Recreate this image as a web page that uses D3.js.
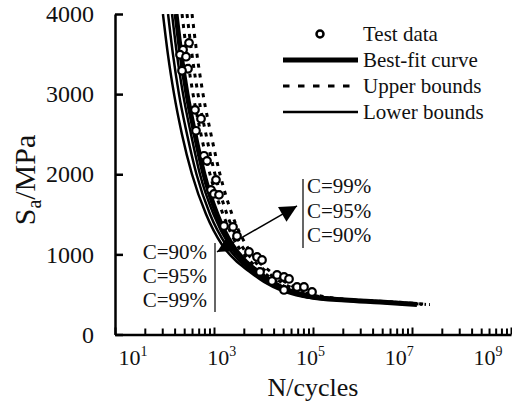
<!DOCTYPE html>
<html>
<head>
<meta charset="utf-8">
<script src="https://cdn.jsdelivr.net/npm/d3@7"></script>
<style>
  body { margin: 0; background: #fff; }
  svg text { font-family: "Liberation Serif", "Times New Roman", serif; fill: #111; }
</style>
</head>
<body>
<div id="chart"></div>
<script>
// stress levels (MPa) shared by the fitted curves
var stressLevels = [4000, 3500, 3000, 2500, 2000, 1500, 1120, 930, 790, 655, 545, 475, 430, 406, 375];

// cycles at each stress level
var nBest    = [171, 215, 285, 413, 628, 1151, 2311, 4035, 7391, 14860, 34270, 86900, 442600, 2260000, 12600000];
var nUpper90 = [226, 284, 377, 546, 830, 1522, 2917, 5092, 9327, 18750, 43250, 109700, 558600, 2852000, 15900000];
var nUpper95 = [285, 358, 475, 688, 1047, 1832, 3515, 6137, 11240, 22600, 52120, 132200, 673200, 3437000, 19160000];
var nUpper99 = [360, 452, 600, 869, 1321, 2312, 4430, 7384, 13530, 27190, 62710, 159000, 810000, 4136000, 23060000];
var nLower90 = [142, 178, 237, 343, 521, 978, 2011, 3510, 6578, 13230, 30500, 77340, 393900, 2011000, 11210000];
var nLower95 = [118, 148, 196, 285, 443, 831, 1747, 3123, 5854, 11770, 27140, 68820, 350500, 1790000, 9979000];
var nLower99 = [93, 117, 156, 225, 359, 691, 1451, 2655, 5092, 10240, 23610, 59870, 305000, 1557000, 8681000];

// test data
var testN = [313, 237, 206, 272, 298, 226, 413, 546, 433, 628, 722, 1097, 869, 1000, 1262,
             1592, 2421, 2915, 5097, 7391, 9330, 8497, 14860, 18760, 25960, 32750, 25960, 47540, 65800, 95500];
var testS = [3640, 3554, 3492, 3467, 3317, 3292, 2804, 2692, 2542, 2230, 2167, 1930, 1805, 1755, 1743,
             1355, 1343, 1230, 1031, 968, 930, 781, 668, 743, 718, 693, 556, 593, 593, 531];

// axes
var yTicks = [0, 1000, 2000, 3000, 4000];
var xMajorTicks = [1e1, 1e3, 1e5, 1e7, 1e9];
var xLabelExp = ["1", "3", "5", "7", "9"];
var minorMult = [4, 9, 16, 25, 36, 49, 64, 81];

var legendItems = ["Test data", "Best-fit curve", "Upper bounds", "Lower bounds"];
var leftNotes = ["C=90%", "C=95%", "C=99%"];
var rightNotes = ["C=99%", "C=95%", "C=90%"];

var width = 512, height = 410;
var margin = { top: 14, right: 1, bottom: 75.5, left: 115 };

var svg = d3.select("#chart").append("svg")
  .attr("width", width)
  .attr("height", height);

var x = d3.scaleLog()
  .domain([1e1, 1e9])
  .range([margin.left, width - margin.right]);

var xLabel = d3.scaleLog()
  .domain([1e1, 1e9])
  .range([133, 488]);

var y = d3.scaleLinear()
  .domain([0, 4000])
  .range([height - margin.bottom, margin.top]);

svg.append("clipPath").attr("id", "plotClip")
  .append("rect")
  .attr("x", margin.left)
  .attr("y", margin.top)
  .attr("width", width - margin.left)
  .attr("height", height - margin.bottom - margin.top);

function pts(nArr) {
  return nArr.map(function (n, i) { return { n: n, s: stressLevels[i] }; });
}

var line = d3.line()
  .x(function (d) { return x(d.n); })
  .y(function (d) { return y(d.s); })
  .curve(d3.curveMonotoneX);

var plot = svg.append("g").attr("clip-path", "url(#plotClip)");

// lower bounds
[nLower99, nLower95, nLower90].forEach(function (arr) {
  plot.append("path")
    .attr("d", line(pts(arr)))
    .attr("fill", "none")
    .attr("stroke", "#000")
    .attr("stroke-width", 2.5);
});

// upper bounds
[nUpper90, nUpper95, nUpper99].forEach(function (arr) {
  plot.append("path")
    .attr("d", line(pts(arr)))
    .attr("fill", "none")
    .attr("stroke", "#000")
    .attr("stroke-width", 3)
    .attr("stroke-dasharray", "4,6");
});

// best fit
plot.append("path")
  .attr("d", line(pts(nBest)))
  .attr("fill", "none")
  .attr("stroke", "#000")
  .attr("stroke-width", 5);

// test data
plot.selectAll("circle.test")
  .data(testN)
  .enter().append("circle")
  .attr("class", "test")
  .attr("cx", function (d) { return x(d); })
  .attr("cy", function (d, i) { return y(testS[i]); })
  .attr("r", 3.8)
  .attr("fill", "#fff")
  .attr("stroke", "#000")
  .attr("stroke-width", 2.2);

// y axis
var yAxis = svg.append("g")
  .attr("transform", "translate(" + margin.left + ",0)")
  .call(d3.axisLeft(y).tickValues(yTicks).tickFormat(d3.format("d"))
    .tickSize(-8).tickSizeOuter(0).tickPadding(21));
yAxis.attr("font-family", null);
yAxis.select(".domain").attr("stroke-width", 2.5);
yAxis.selectAll(".tick line").attr("stroke-width", 2.5);
yAxis.selectAll("text")
  .style("font-size", "24px")
  .attr("fill", "#111");

// x axis
var xAxis = svg.append("g")
  .attr("transform", "translate(0," + y(0) + ")")
  .call(d3.axisBottom(x).tickValues(xMajorTicks).tickSize(-7).tickSizeOuter(0).tickFormat(""));
xAxis.select(".domain").attr("stroke-width", 2.5);
xAxis.selectAll(".tick line").attr("stroke-width", 2);

var minorTicks = [];
xMajorTicks.slice(0, 4).forEach(function (m) {
  minorMult.forEach(function (k) { minorTicks.push(m * k); });
});
var xMinor = svg.append("g")
  .attr("transform", "translate(0," + y(0) + ")")
  .call(d3.axisBottom(x).tickValues(minorTicks).tickSize(-6).tickFormat(""));
xMinor.select(".domain").remove();
xMinor.selectAll(".tick line").attr("stroke-width", 2);

// x tick labels
var xl = svg.selectAll("text.xl")
  .data(xMajorTicks)
  .enter().append("text")
  .attr("class", "xl")
  .attr("x", function (d) { return xLabel(d); })
  .attr("y", 365)
  .attr("text-anchor", "middle")
  .style("font-size", "22px");
xl.append("tspan").text("10");
xl.append("tspan")
  .attr("dy", -9)
  .style("font-size", "14px")
  .text(function (d, i) { return xLabelExp[i]; });

// axis titles
svg.append("text")
  .attr("x", 313)
  .attr("y", 396)
  .attr("text-anchor", "middle")
  .style("font-size", "26px")
  .text("N/cycles");

var yt = svg.append("text")
  .attr("transform", "translate(35,180) rotate(-90)")
  .attr("text-anchor", "middle")
  .style("font-size", "30px");
yt.append("tspan").text("S");
yt.append("tspan").attr("dy", 6).style("font-size", "20px").text("a");
yt.append("tspan").attr("dy", -6).text("/MPa");

// legend
var lg = svg.append("g");
var rowY = [34, 60, 86, 112];
lg.selectAll("text")
  .data(legendItems)
  .enter().append("text")
  .attr("x", 363)
  .attr("y", function (d, i) { return rowY[i] + 7; })
  .style("font-size", "21px")
  .text(function (d) { return d; });
lg.append("circle")
  .attr("cx", 320).attr("cy", rowY[0]).attr("r", 3.5)
  .attr("fill", "#fff").attr("stroke", "#000").attr("stroke-width", 2.5);
lg.append("line")
  .attr("x1", 283).attr("x2", 358).attr("y1", rowY[1]).attr("y2", rowY[1])
  .attr("stroke", "#000").attr("stroke-width", 5);
lg.append("line")
  .attr("x1", 283).attr("x2", 352).attr("y1", rowY[2]).attr("y2", rowY[2])
  .attr("stroke", "#000").attr("stroke-width", 3).attr("stroke-dasharray", "6.5,8.5");
lg.append("line")
  .attr("x1", 283).attr("x2", 358).attr("y1", rowY[3]).attr("y2", rowY[3])
  .attr("stroke", "#000").attr("stroke-width", 2.5);

// double-headed arrow
var arrowFrom = { n: 1150, s: 1031 }, arrowTo = { n: 47500, s: 1605 };
var defs = svg.append("defs");
defs.append("marker")
  .attr("id", "head")
  .attr("viewBox", "0 0 10 10")
  .attr("refX", 10).attr("refY", 5)
  .attr("markerUnits", "userSpaceOnUse")
  .attr("markerWidth", 19).attr("markerHeight", 17)
  .attr("orient", "auto-start-reverse")
  .append("path").attr("d", "M0,0L10,5L0,10z").attr("fill", "#000");
svg.append("line")
  .attr("x1", x(arrowFrom.n)).attr("y1", y(arrowFrom.s))
  .attr("x2", x(arrowTo.n)).attr("y2", y(arrowTo.s))
  .attr("stroke", "#000").attr("stroke-width", 1.5)
  .attr("marker-start", "url(#head)")
  .attr("marker-end", "url(#head)");

// confidence notes
var leftBarX = 215, rightBarX = 303;
svg.append("line")
  .attr("x1", leftBarX).attr("x2", leftBarX).attr("y1", 243).attr("y2", 312)
  .attr("stroke", "#333").attr("stroke-width", 1.5);
svg.selectAll("text.ln")
  .data(leftNotes)
  .enter().append("text")
  .attr("class", "ln")
  .attr("x", 207)
  .attr("y", function (d, i) { return 259 + i * 24; })
  .attr("text-anchor", "end")
  .style("font-size", "21px")
  .text(function (d) { return d; });

svg.append("line")
  .attr("x1", rightBarX).attr("x2", rightBarX).attr("y1", 179).attr("y2", 248)
  .attr("stroke", "#333").attr("stroke-width", 1.5);
svg.selectAll("text.rn")
  .data(rightNotes)
  .enter().append("text")
  .attr("class", "rn")
  .attr("x", 307)
  .attr("y", function (d, i) { return 193 + i * 24.5; })
  .style("font-size", "21px")
  .text(function (d) { return d; });
</script>
</body>
</html>
